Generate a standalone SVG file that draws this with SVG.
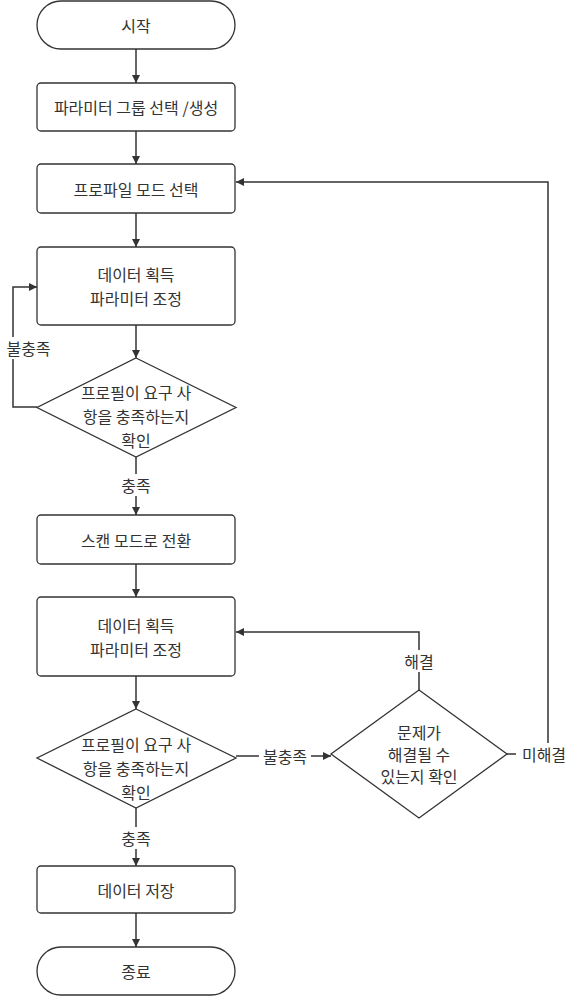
<svg xmlns="http://www.w3.org/2000/svg" width="579" height="997" viewBox="0 0 579 997">
<defs>
<marker id="arr" viewBox="0 0 10 10" refX="10" refY="5" markerWidth="8" markerHeight="8" markerUnits="userSpaceOnUse" orient="auto">
<path d="M0,0 L10,5 L0,10 z" fill="#333"/>
</marker>
</defs>
<style>
.n{fill:#fff;stroke:#333;stroke-width:1.3}
.t{font-family:"Noto Sans CJK KR","Noto Sans",sans-serif;font-size:16px;fill:#333;text-anchor:middle;dominant-baseline:central}
.e{fill:none;stroke:#333;stroke-width:1.5;marker-end:url(#arr)}
.l{fill:none;stroke:#333;stroke-width:1.5}
.lb{fill:#fff}
</style>
<rect width="579" height="997" fill="#fff"/>
<g id="connectors">
<path class="e" d="M136,49 V83"/>
<path class="e" d="M136,131 V164"/>
<path class="e" d="M136,213 V247"/>
<path class="e" d="M136,325 V358"/>
<path class="e" d="M136,457 V515"/>
<path class="e" d="M136,564 V597"/>
<path class="e" d="M136,676 V709"/>
<path class="e" d="M136,808 V866"/>
<path class="e" d="M136,913 V947"/>
<path class="e" d="M37,407 H13 V287 H37"/>
<path class="e" d="M236,756 H331"/>
<path class="e" d="M419,690 V632 H236"/>
<path class="e" d="M507,754 H548 V182 H236"/>
<rect class="lb" x="117" y="474" width="38" height="22"/>
<text class="t" x="136" y="485">충족</text>
<rect class="lb" x="117" y="827" width="38" height="22"/>
<text class="t" x="136" y="838">충족</text>
<rect class="lb" x="5" y="337" width="47" height="22"/>
<text class="t" x="28.5" y="348">불충족</text>
<rect class="lb" x="259" y="745" width="52" height="22"/>
<text class="t" x="285" y="756">불충족</text>
<rect class="lb" x="400" y="650" width="38" height="22"/>
<text class="t" x="419" y="661">해결</text>
<rect class="lb" x="516" y="743" width="56" height="22"/>
<text class="t" x="544" y="754">미해결</text>
</g>
<g id="start">
<rect class="n" x="37" y="1" width="198" height="48" rx="24"/>
<text class="t" x="136" y="25">시작</text>
</g>
<g id="group">
<rect class="n" x="37" y="83" width="198" height="48" rx="4"/>
<text class="t" x="136" y="107">파라미터 그룹 선택 /생성</text>
</g>
<g id="profile">
<rect class="n" x="37" y="164" width="198" height="49" rx="4"/>
<text class="t" x="136" y="189">프로파일 모드 선택</text>
</g>
<g id="acquire1">
<rect class="n" x="37" y="247" width="198" height="78" rx="4"/>
<text class="t" x="136" y="274">데이터 획득</text>
<text class="t" x="136" y="298">파라미터 조정</text>
</g>
<g id="check1">
<polygon class="n" points="136,358 236,407.5 136,457 37,407.5"/>
<text class="t" x="136" y="392">프로필이 요구 사</text>
<text class="t" x="136" y="416">항을 충족하는지</text>
<text class="t" x="136" y="440">확인</text>
</g>
<g id="scan">
<rect class="n" x="37" y="515" width="198" height="49" rx="4"/>
<text class="t" x="136" y="540">스캔 모드로 전환</text>
</g>
<g id="acquire2">
<rect class="n" x="37" y="597" width="198" height="79" rx="4"/>
<text class="t" x="136" y="624.5">데이터 획득</text>
<text class="t" x="136" y="648.5">파라미터 조정</text>
</g>
<g id="check2">
<polygon class="n" points="136,709 236,758 136,808 37,758"/>
<text class="t" x="136" y="744">프로필이 요구 사</text>
<text class="t" x="136" y="768">항을 충족하는지</text>
<text class="t" x="136" y="792">확인</text>
</g>
<g id="resolve">
<polygon class="n" points="419,690 507,754 419,818 331,754"/>
<text class="t" x="419" y="732">문제가</text>
<text class="t" x="419" y="754">해결될 수</text>
<text class="t" x="419" y="776">있는지 확인</text>
</g>
<g id="save">
<rect class="n" x="37" y="866" width="198" height="47" rx="4"/>
<text class="t" x="136" y="889.5">데이터 저장</text>
</g>
<g id="end">
<rect class="n" x="37" y="947" width="198" height="48" rx="24"/>
<text class="t" x="136" y="971">종료</text>
</g>
</svg>
